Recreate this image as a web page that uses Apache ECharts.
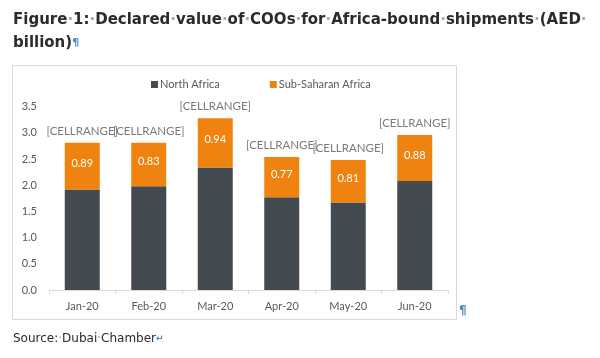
<!DOCTYPE html>
<html><head><meta charset="utf-8">
<script src="https://cdn.jsdelivr.net/npm/echarts@6/dist/echarts.min.js"></script>
<style>html,body{margin:0;padding:0;background:#fff}#c{width:600px;height:358px}</style>
</head><body><div id="c"></div>
<script>
const categories = ['Jan-20', 'Feb-20', 'Mar-20', 'Apr-20', 'May-20', 'Jun-20'];
const northAfrica = [1.92, 1.98, 2.34, 1.77, 1.67, 2.08];
const subSaharan = [0.89, 0.83, 0.94, 0.77, 0.81, 0.88];
const yTicks = [0, 0.5, 1.0, 1.5, 2.0, 2.5, 3.0, 3.5];
const totals = northAfrica.map((v, i) => +(v + subSaharan[i]).toFixed(2));

const chart = echarts.init(document.getElementById('c'), null, {renderer: 'canvas'});
const gray = '#595959';
const font = 'Lato, "Open Sans", sans-serif';
const titleFont = '"DejaVu Sans", Verdana, sans-serif';
const sp = '{d|·}';
chart.setOption({
  animation: false,
  backgroundColor: '#fff',
  graphic: [
    {type: 'rect', shape: {x: 12.5, y: 65.5, width: 444, height: 254}, style: {fill: 'none', stroke: '#d9d9d9', lineWidth: 1}, z: -1},
    {type: 'text', left: 13, top: 13, style: {
      text: ['Figure', '1:', 'Declared', 'value', 'of', 'COOs', 'for', 'Africa-bound', 'shipments', '(AED'].join(sp) + sp,
      font: 'bold 15px ' + titleFont, fill: '#2b2b2b',
      rich: {d: {fill: '#aaa', font: 'bold 15px ' + titleFont}}
    }},
    {type: 'text', left: 13, top: 36, style: {
      text: 'billion){p|¶}', font: 'bold 15px ' + titleFont, fill: '#2b2b2b',
      rich: {p: {fill: '#4a86c5', font: 'bold 11px ' + titleFont}}
    }},
    {type: 'text', left: 13, top: 333, style: {
      text: 'Source:{d|·}Dubai{d|·}Chamber{p|↵}', font: '12px ' + titleFont, fill: '#2b2b2b',
      rich: {d: {fill: '#999', font: '12px ' + titleFont}, p: {fill: '#4a86c5', font: 'bold 9px ' + titleFont}}
    }},
    {type: 'text', left: 459, top: 305, style: {text: '¶', font: 'bold 12px ' + titleFont, fill: '#4a86c5'}}
  ],
  legend: {
    data: ['North Africa', 'Sub-Saharan Africa'],
    left: 146, top: 74, itemWidth: 7, itemHeight: 7, itemGap: 50,
    icon: 'rect',
    textStyle: {color: gray, fontFamily: font, fontSize: 11, padding: [0, 0, 0, -3]}
  },
  grid: {left: 49, right: 152, top: 106.7, bottom: 68, containLabel: false},
  xAxis: {
    type: 'category', data: categories,
    axisLine: {lineStyle: {color: '#d9d9d9'}},
    axisTick: {show: true, length: 4, lineStyle: {color: '#d9d9d9'}},
    axisLabel: {color: gray, fontFamily: font, fontSize: 11, margin: 11}
  },
  yAxis: {
    type: 'value', min: 0, max: 3.5, interval: 0.5,
    axisLine: {show: false}, axisTick: {show: false}, splitLine: {show: false},
    axisLabel: {color: gray, fontFamily: font, fontSize: 11, margin: 12, formatter: v => v.toFixed(1)}
  },
  series: [
    {name: 'North Africa', type: 'bar', stack: 't', data: northAfrica, barWidth: 35,
      itemStyle: {color: '#434a50'}},
    {name: 'Sub-Saharan Africa', type: 'bar', stack: 't', data: subSaharan, barWidth: 35,
      itemStyle: {color: '#f0820f'},
      label: {show: true, position: 'inside', color: '#fff', fontFamily: font, fontSize: 11,
        formatter: p => p.value.toFixed(2), offset: [0, -3]}},
    {name: 'labels', type: 'scatter', data: totals, symbolSize: 0, silent: true,
      label: {show: true, position: 'top', distance: 6, color: gray, fontFamily: font, fontSize: 11.5,
        formatter: '[CELLRANGE]'}}
  ]
});
</script></body></html>
